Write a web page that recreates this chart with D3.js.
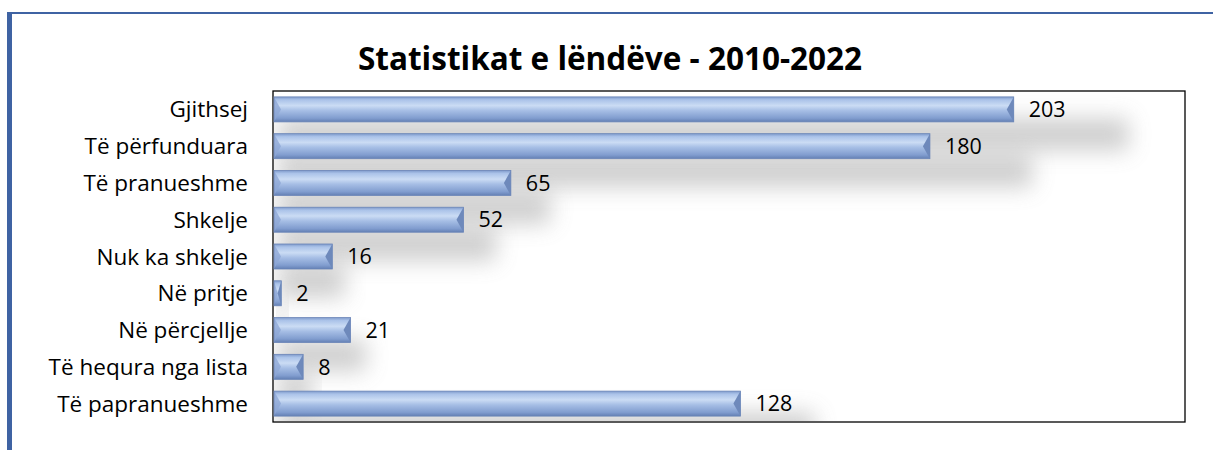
<!DOCTYPE html>
<html><head><meta charset="utf-8">
<script src="https://cdn.jsdelivr.net/npm/d3@7"></script>
<style>body{margin:0;background:#fff;}svg{display:block;}</style>
</head><body>
<svg id="c" width="1213" height="450"></svg>
<script>
const categories = ["Gjithsej","Të përfunduara","Të pranueshme","Shkelje","Nuk ka shkelje","Në pritje","Në përcjellje","Të hequra nga lista","Të papranueshme"];
const values = [203,180,65,52,16,2,21,8,128];
const titleText = "Statistikat e lëndëve - 2010-2022";

const svg = d3.select("#c");
const W = 1213, H = 450;
const m = {left:273, top:91, right:1185, bottom:422};
const font = "'Open Sans', sans-serif";

const x = d3.scaleLinear().domain([0,250]).range([m.left+1, m.right]);
const y = d3.scaleBand().domain(categories).range([m.top, m.bottom]).paddingInner(0.32).paddingOuter(0.16);

const defs = svg.append("defs");
const g = defs.append("linearGradient").attr("id","barg").attr("x1",0).attr("y1",0).attr("x2",0).attr("y2",1);
[[0,"#7f9acb"],[0.12,"#abc3e9"],[0.35,"#cbdcf4"],[0.55,"#a6bee5"],[0.85,"#819dcf"],[1,"#6480b4"]].forEach(s=>g.append("stop").attr("offset",s[0]).attr("stop-color",s[1]));
const f = defs.append("filter").attr("id","sh").attr("x","-20%").attr("y","-100%").attr("width","150%").attr("height","400%");
f.append("feGaussianBlur").attr("stdDeviation",11);

// outer frame (blue)
svg.append("rect").attr("x",8).attr("y",13).attr("width",W).attr("height",H).attr("fill","none").attr("stroke","#3f63a3").attr("stroke-width",2);
svg.append("rect").attr("x",8).attr("y",13).attr("width",4).attr("height",H-13).attr("fill","#3f63a3");

// title
svg.append("text").attr("x",610).attr("y",70).attr("text-anchor","middle")
  .attr("font-family",font).attr("font-weight","bold").attr("font-size",31.5).attr("fill","#000").text(titleText);

// plot frame
svg.append("rect").attr("x",m.left).attr("y",m.top).attr("width",m.right-m.left).attr("height",m.bottom-m.top)
  .attr("fill","#fff").attr("stroke","#000").attr("stroke-width",1.3);

const data = categories.map((c,i)=>({c, v:values[i]}));
const bh = y.bandwidth();

// shadows
const sg = svg.append("g").attr("clip-path","url(#pc)");
defs.append("clipPath").attr("id","pc").append("rect").attr("x",m.left+1).attr("y",m.top+1).attr("width",m.right-m.left-2).attr("height",m.bottom-m.top-2);
sg.selectAll("rect").data(data).join("rect")
  .attr("x", x(0)+4)
  .attr("y", d=>y(d.c)+bh*0.85)
  .attr("width", d=>(x(d.v)-x(0))*1.15)
  .attr("height", bh*1.3)
  .attr("fill","#8e8e8e").attr("opacity",0.42).attr("filter","url(#sh)");

// bars
const bars = svg.append("g");
bars.selectAll("rect").data(data).join("rect")
  .attr("x", x(0)).attr("y", d=>y(d.c))
  .attr("width", d=>x(d.v)-x(0)).attr("height", bh)
  .attr("fill","url(#barg)");
const bev = 7;
bars.selectAll("path.r").data(data).join("path").attr("class","r")
  .attr("d", d=>{const x1=x(d.v), y0=y(d.c), b=Math.min(bev,(x1-x(0))/2);
    return `M${x1},${y0}L${x1-b},${y0+bh/2}L${x1},${y0+bh}Z`;})
  .attr("fill","#6e89bb");
bars.selectAll("path.l").data(data).join("path").attr("class","l")
  .attr("d", d=>{const x0=x(0), y0=y(d.c), b=Math.min(bev,(x(d.v)-x0)/2);
    return `M${x0},${y0}L${x0+b},${y0+bh/2}L${x0},${y0+bh}Z`;})
  .attr("fill","#8ea8d6").attr("opacity",0.8);
bars.selectAll("rect.o").data(data).join("rect").attr("class","o")
  .attr("x", x(0)).attr("y", d=>y(d.c))
  .attr("width", d=>x(d.v)-x(0)).attr("height", bh)
  .attr("fill","none").attr("stroke","#6b86b8").attr("stroke-width",0.8);

// value labels
svg.append("g").selectAll("text").data(data).join("text")
  .attr("x", d=>x(d.v)+15).attr("y", d=>y(d.c)+bh/2).attr("dy","0.36em")
  .attr("font-family",font).attr("font-size",21.5).attr("fill","#000").text(d=>d.v);

// category axis
const ax = svg.append("g").attr("transform",`translate(${m.left},0)`)
  .call(d3.axisLeft(y).tickSize(0).tickPadding(25));
ax.select(".domain").remove();
ax.selectAll("text").attr("font-family",font).attr("font-size",22.5).attr("fill","#000").attr("dy","0.36em");
</script>
</body></html>
